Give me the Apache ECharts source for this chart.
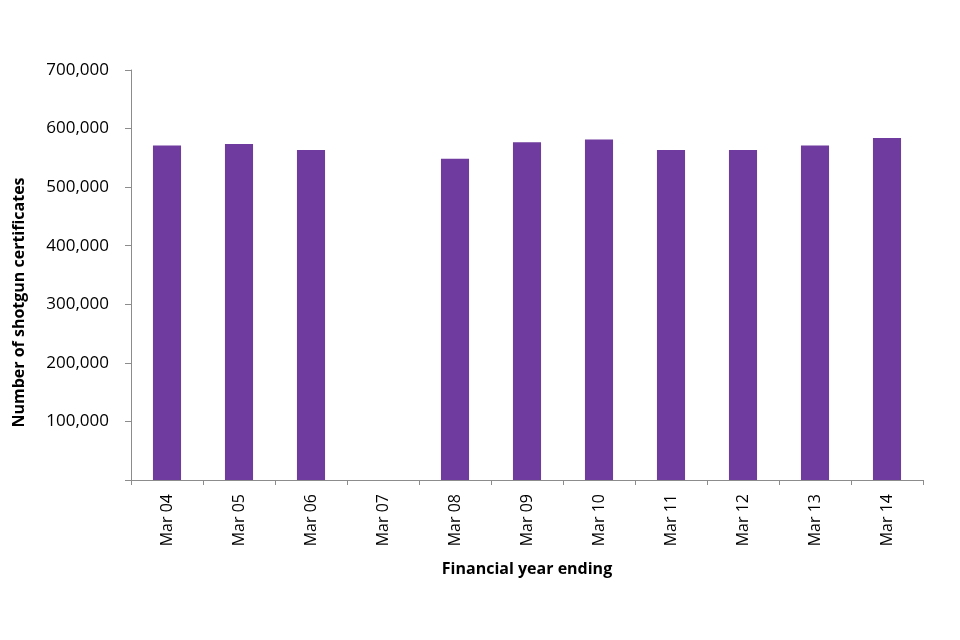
<!DOCTYPE html>
<html>
<head>
<meta charset="utf-8">
<script src="https://cdn.jsdelivr.net/npm/echarts@6/dist/echarts.min.js"></script>
<style>html,body{margin:0;padding:0;background:#fff}#c{width:960px;height:640px}</style>
</head>
<body>
<div id="c"></div>
<script>
const categories = ['Mar 04','Mar 05','Mar 06','Mar 07','Mar 08','Mar 09','Mar 10','Mar 11','Mar 12','Mar 13','Mar 14'];
const certificates = [571000, 573500, 563500, null, 548500, 576500, 581500, 563500, 563500, 571000, 584000];
const yTicks = {min: 0, max: 700000, interval: 100000};

const chart = echarts.init(document.getElementById('c'));
const font = 'Open Sans';
chart.setOption({
  animation: false,
  grid: {left: 131, right: 37, top: 70, bottom: 160, containLabel: false},
  xAxis: {
    type: 'category',
    data: categories,
    name: 'Financial year ending',
    nameLocation: 'middle',
    nameGap: 81,
    nameTextStyle: {fontFamily: font, fontWeight: 'bold', fontSize: 16, color: '#000'},
    axisLine: {lineStyle: {color: '#8c8c8c', width: 1}},
    axisTick: {show: true, length: 5, lineStyle: {color: '#8c8c8c'}},
    axisLabel: {rotate: 90, margin: 14, interval: 0, fontFamily: font, fontSize: 16, color: '#000'}
  },
  yAxis: {
    type: 'value',
    min: yTicks.min, max: yTicks.max, interval: yTicks.interval,
    name: 'Number of shotgun certificates',
    nameLocation: 'middle',
    nameGap: 104,
    nameTextStyle: {fontFamily: font, fontWeight: 'bold', fontSize: 16, color: '#000', padding: [0, 55, 0, 0]},
    axisLine: {show: true, lineStyle: {color: '#8c8c8c', width: 1}},
    axisTick: {show: true, length: 6, lineStyle: {color: '#8c8c8c'}},
    splitLine: {show: false},
    axisLabel: {
      margin: 22, fontFamily: font, fontSize: 17, color: '#000',
      formatter: v => v === 0 ? '' : v.toLocaleString('en-GB')
    }
  },
  series: [{
    type: 'bar',
    data: certificates,
    barWidth: '39%',
    itemStyle: {color: '#6f3b9e'}
  }]
});
</script>
</body>
</html>
